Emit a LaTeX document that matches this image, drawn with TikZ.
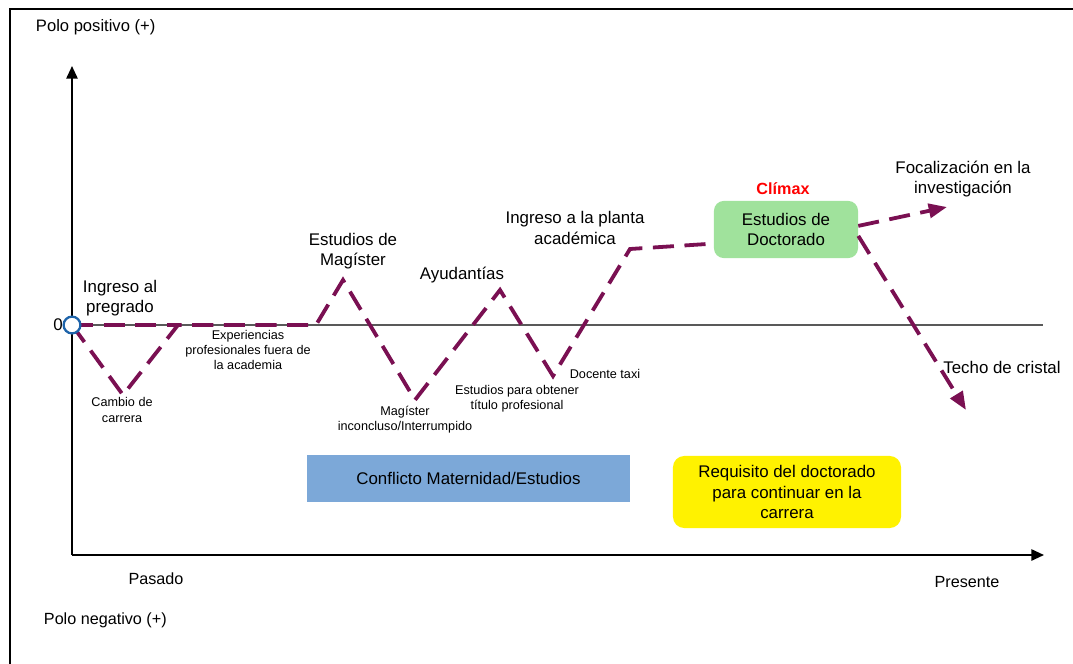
\documentclass[tikz,border=0pt]{standalone}
\usepackage{fontspec}
\setmainfont{Liberation Sans}
\usetikzlibrary{arrows.meta}
\definecolor{traza}{RGB}{122,16,82}
\definecolor{verdecaja}{RGB}{160,226,156}
\definecolor{azulcaja}{RGB}{124,168,216}
\definecolor{bordecirc}{RGB}{30,100,170}
\tikzset{
  trayecto/.style={draw=traza, line width=2.7pt, dash pattern=on 15pt off 7.5pt},
  flecha/.style={-{Triangle[length=13pt,width=10pt]}},
  grande/.style={font=\fontsize{12}{14.5}\selectfont, align=center},
  chica/.style={font=\fontsize{9}{10.8}\selectfont, align=center},
}
\begin{document}
\begin{tikzpicture}[x=0.025cm, y=-0.025cm]
        \useasboundingbox (0,0) rectangle (1073,664);
        %%frame
        \draw[line width=2pt] (10,664) to (10,9) to (1073,9);

        %%draw the axes
        \coordinate (ejey0) at (72,555);
        \coordinate (ejey1) at (72,66);
        \coordinate (ejex1) at (1044,555);
        \coordinate (cero0) at (72,325);
        \coordinate (cero1) at (1043,325);
        \draw[line width=1.4pt, -{Triangle[length=9pt,width=8pt]}] (ejey0) to (ejey1);
        \draw[line width=1.4pt, -{Triangle[length=9pt,width=8pt]}] (ejey0) to (ejex1);
        \draw[gray!70!black, line width=0.9pt] (cero0) to (cero1);
            \node (cero) at(58, 325){\fontsize{12}{14}\selectfont 0};
            \node[anchor=west] (polopos) at(31, 27){\fontsize{11.8}{14}\selectfont Polo positivo (+)};
            \node[anchor=west] (poloneg) at(39, 620){\fontsize{11.5}{14}\selectfont Polo negativo (+)};
            \node (pasado) at(156, 579){\fontsize{11.5}{14}\selectfont Pasado};
            \node (presente) at(967, 582){\fontsize{11.5}{14}\selectfont Presente};

        %%points of the path
        \coordinate (origen) at (72,325);
        \coordinate (cambio) at (123,395);
        \coordinate (exper) at (178,325);
        \coordinate (finexp) at (316,325);
        \coordinate (magister) at (343,280);
        \coordinate (inconcl) at (415,400);
        \coordinate (ayud) at (500,290);
        \coordinate (taxi) at (553,376);
        \coordinate (planta) at (630,249);
        \coordinate (antesdoct) at (707,244);
        \coordinate (focal) at (947,207);
        \coordinate (techo) at (966,410);

        %%the boxes
        \node[draw=none, fill=verdecaja, rounded corners=7pt, minimum width=3.6cm,
              minimum height=1.43cm, grande] (doct) at(786, 229.5){Estudios de\\Doctorado};
        \node[fill=azulcaja, minimum width=8.08cm, minimum height=1.18cm, grande]
              (conflicto) at(468.5, 478.5){Conflicto Maternidad/Estudios};
        \node[fill=yellow, rounded corners=8pt, minimum width=5.7cm, minimum height=1.8cm, grande]
              (requisito) at(787, 492){Requisito del doctorado\\para continuar en la\\carrera};

        %%draw the path
        \draw[trayecto] (origen) to (exper);
        \draw[trayecto] (origen) -- (cambio) -- (exper) -- (finexp) -- (magister) -- (inconcl)
              -- (ayud) -- (taxi) -- (planta) -- (antesdoct);
        \draw[trayecto, flecha] ([yshift=0.09cm]doct.east) to (focal);
        \draw[trayecto, flecha] ([yshift=-0.16cm]doct.east) to (techo);
        \node[circle, draw=bordecirc, fill=white, line width=1.6pt, minimum size=0.42cm,
              inner sep=0pt] (circulo) at (origen){};

        %%labels
        \node[grande] (lpregrado) at(120, 298){Ingreso al\\pregrado};
        \node[chica] (lcambio) at(122, 410){Cambio de\\carrera};
        \node[chica] (lexper) at(248, 350){Experiencias\\profesionales fuera de\\la academia};
        \node[grande] (lmagister) at(353, 251){Estudios de\\Magíster};
        \node[chica] (linconcl) at(405, 420){Magíster\\inconcluso/Interrumpido};
        \node[grande] (layud) at(462, 275){Ayudantías};
        \node[chica] (ltitulo) at(517, 399){Estudios para obtener\\título profesional};
        \node[chica] (ltaxi) at(605, 374){Docente taxi};
        \node[grande] (lplanta) at(575, 228){Ingreso a la planta\\académica};
        \node[grande, text=red, font=\fontsize{11.5}{14}\selectfont\bfseries] (lclimax) at(783, 189){Clímax};
        \node[grande] (lfocal) at(963, 179){Focalización en la\\investigación};
        \node[grande] (ltecho) at(1002, 367){Techo de cristal};

    \end{tikzpicture}
\end{document}
